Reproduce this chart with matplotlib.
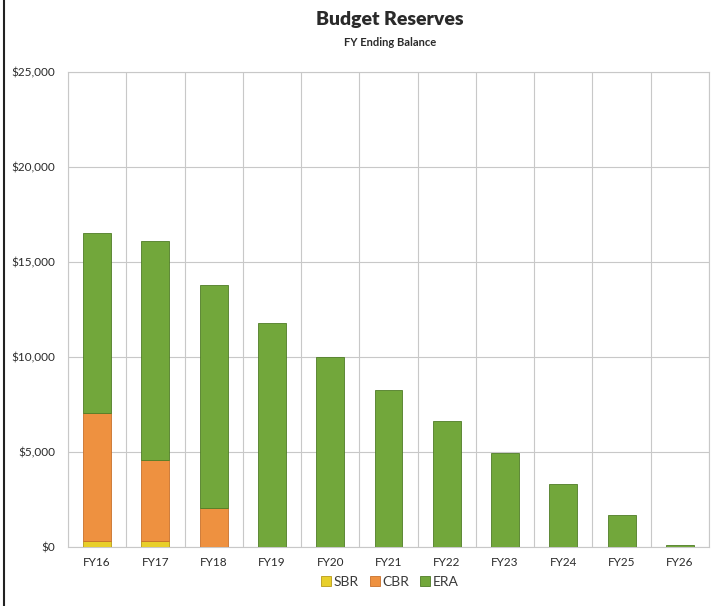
import matplotlib.pyplot as plt
from matplotlib.ticker import FuncFormatter, MultipleLocator
import numpy as np

years = ["FY16", "FY17", "FY18", "FY19", "FY20", "FY21", "FY22", "FY23", "FY24", "FY25", "FY26"]
sbr = [300, 300, 0, 0, 0, 0, 0, 0, 0, 0, 0]
cbr = [6750, 4280, 2050, 0, 0, 0, 0, 0, 0, 0, 0]
era = [9450, 11520, 11750, 11800, 10000, 8260, 6630, 4950, 3300, 1680, 100]

SBR_COLOR = "#e8cf2a"
CBR_COLOR = "#ee9140"
ERA_COLOR = "#72a73b"

plt.rcParams['font.family'] = ['Lato', 'DejaVu Sans']

fig = plt.figure(figsize=(7.15, 6.06), dpi=100)
ax = fig.add_axes([68/715, 1 - 547/606, (709 - 68)/715, (547 - 72)/606])

x = np.arange(len(years))
w = 0.48
sbr_a = np.array(sbr)
cbr_a = np.array(cbr)
era_a = np.array(era)

ax.bar(x, sbr_a, w, color=SBR_COLOR, edgecolor="#b89a18", linewidth=0.6, label="SBR", zorder=3)
ax.bar(x, cbr_a, w, bottom=sbr_a, color=CBR_COLOR, edgecolor="#c8702a", linewidth=0.6, label="CBR", zorder=3)
ax.bar(x, era_a, w, bottom=sbr_a + cbr_a, color=ERA_COLOR, edgecolor="#4f7d26", linewidth=0.6, label="ERA", zorder=3)

ax.set_xlim(-0.5, len(years) - 0.5)
ax.set_ylim(0, 25000)
ax.yaxis.set_major_locator(MultipleLocator(5000))
ax.yaxis.set_major_formatter(FuncFormatter(lambda v, p: "${:,.0f}".format(v)))
ax.set_xticks(x)
ax.set_xticklabels(years)
ax.set_xticks(np.arange(-0.5, len(years), 1), minor=True)

ax.grid(axis="y", which="major", color="#c8c8c8", linewidth=0.8, zorder=0)
ax.grid(axis="x", which="minor", color="#c8c8c8", linewidth=0.8, zorder=0)
ax.tick_params(axis="both", which="both", length=0, labelsize=8.5, colors="#2a2a2a")
ax.tick_params(axis="x", pad=7)
ax.tick_params(axis="y", pad=9)
for s in ax.spines.values():
    s.set_color("#c8c8c8")
    s.set_linewidth(0.8)

fig.text(390/715, 1 - 20/606, "Budget Reserves", ha="center", va="center",
         fontsize=14, fontweight="heavy", color="#2a2a2a")
fig.text(390/715, 1 - 42/606, "FY Ending Balance", ha="center", va="center",
         fontsize=8, fontweight="bold", color="#2a2a2a")

leg = fig.legend(loc="center", bbox_to_anchor=(390/715, 1 - 582/606), ncol=3, frameon=False,
                 fontsize=10, handlelength=0.7, handleheight=0.7, handletextpad=0.2,
                 columnspacing=0.8)
for t in leg.get_texts():
    t.set_color("#3a3a3a")

# left border of the scanned frame
fig.add_artist(plt.Line2D([4/715, 4/715], [0, 1], color="#222222", linewidth=1.5))

fig.savefig("out.png", dpi=100, facecolor="white")
